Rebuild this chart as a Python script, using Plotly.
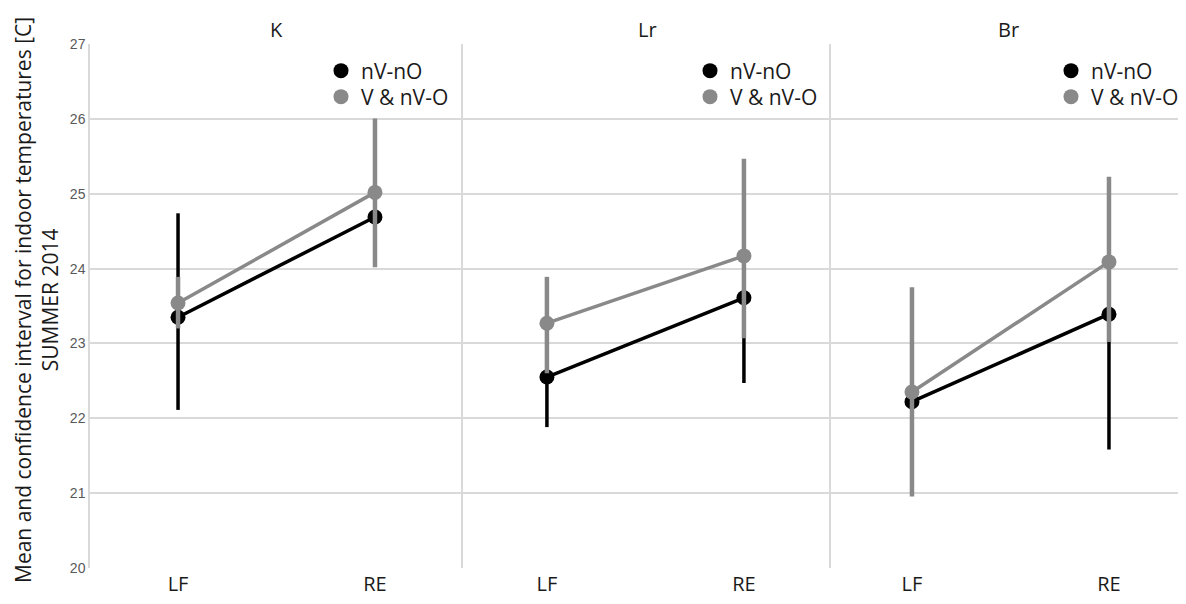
import plotly.graph_objects as go
from plotly.subplots import make_subplots

groups = ["K", "Lr", "Br"]
categories = ["LF", "RE"]
series_names = ["nV-nO", "V & nV-O"]

# nV-nO (black)
nvno_mean = {"K": [23.35, 24.69], "Lr": [22.55, 23.61], "Br": [22.22, 23.39]}
nvno_low = {"K": [22.11, 24.20], "Lr": [21.88, 22.47], "Br": [21.50, 21.58]}
nvno_high = {"K": [24.74, 25.20], "Lr": [23.20, 24.60], "Br": [23.00, 24.80]}

# V & nV-O (gray)
vnv_mean = {"K": [23.54, 25.02], "Lr": [23.27, 24.17], "Br": [22.35, 24.09]}
vnv_low = {"K": [23.20, 24.02], "Lr": [22.60, 23.07], "Br": [20.95, 23.02]}
vnv_high = {"K": [23.89, 26.01], "Lr": [23.89, 25.47], "Br": [23.75, 25.23]}

y_ticks = [20, 21, 22, 23, 24, 25, 26, 27]

BLACK = "#000000"
GRAY = "#898989"
GRID = "#d9d9d9"
TXT = "#1a1a1a"

fig = make_subplots(rows=1, cols=3, shared_yaxes=True, horizontal_spacing=0)

series = [
    (series_names[0], BLACK, 3.5, nvno_mean, nvno_low, nvno_high),
    (series_names[1], GRAY, 4.5, vnv_mean, vnv_low, vnv_high),
]

# figure coords (page is offset by 8px body margin)
FW, FH = 1178, 596
L, R_EDGE = 82, 1178
TOP, BOT = 36, 560
pw = R_EDGE - L
ph = BOT - TOP
edges = [82, 455, 823, 1178]
doms = [[(edges[i] - L) / pw, (edges[i + 1] - L) / pw] for i in range(3)]
xranges = [[-0.447, 1.447], [-0.426, 1.442], [-0.411, 1.391]]

legend_left = [313, 682, 1043]
legend_rows = [63, 89]

legend_layouts = {}
for gi, g in enumerate(groups):
    col = gi + 1
    for name, color, thick, mean, low, high in series:
        m = mean[g]
        up = [h - v for h, v in zip(high[g], m)]
        dn = [v - l for v, l in zip(m, low[g])]
        fig.add_trace(go.Scatter(
            x=categories, y=m, mode="lines+markers", name=name,
            line=dict(color=color, width=3.5),
            marker=dict(color=color, size=15),
            error_y=dict(type="data", symmetric=False, array=up, arrayminus=dn,
                         color=color, thickness=thick, width=0),
            showlegend=False,
        ), row=1, col=col)
    for si, (name, color, *_) in enumerate(series):
        idx = gi * 2 + si + 1
        lid = "legend" if idx == 1 else f"legend{idx}"
        legend_layouts[lid] = dict(
            x=(legend_left[gi] - L) / pw, xanchor="left",
            y=(BOT - legend_rows[si]) / ph, yanchor="middle",
            bgcolor="rgba(255,255,255,0)",
            font=dict(family="Open Sans", size=21, color=TXT),
            itemwidth=30,
        )
        fig.add_trace(go.Scatter(
            x=[None], y=[None], mode="markers", name=name,
            marker=dict(color=color, size=15),
            legend=lid, showlegend=True,
        ), row=1, col=col)

for i in range(3):
    xa = "xaxis" if i == 0 else f"xaxis{i+1}"
    ya = "yaxis" if i == 0 else f"yaxis{i+1}"
    fig.layout[xa].update(
        domain=doms[i], type="category", categoryorder="array",
        categoryarray=categories, range=xranges[i], showgrid=False,
        zeroline=False, showline=False, ticks="", ticklabelstandoff=2,
        tickfont=dict(family="Open Sans", size=20, color=TXT),
    )
    fig.layout[ya].update(
        range=[19.995, 27.005], tickvals=y_ticks, showgrid=True, gridcolor=GRID,
        gridwidth=1.5, zeroline=False, showline=True, linecolor=GRID,
        linewidth=1.5, ticks="", showticklabels=(i == 0),
        tickfont=dict(family="Liberation Sans", size=14, color="#595959"),
    )

for lid, spec in legend_layouts.items():
    fig.layout[lid] = spec

annotations = []
for i, g in enumerate(groups):
    annotations.append(dict(
        text=g, xref="paper", yref="paper",
        x=(doms[i][0] + doms[i][1]) / 2, y=(BOT - 22) / ph,
        xanchor="center", yanchor="middle", showarrow=False,
        font=dict(family="Open Sans", size=20, color=TXT),
    ))
annotations.append(dict(
    text="Mean and confidence interval for indoor temperatures [C]<br>SUMMER 2014",
    xref="paper", yref="paper", x=(28 - L) / pw, y=(BOT - 292) / ph,
    xanchor="center", yanchor="middle", textangle=-90, showarrow=False,
    font=dict(family="Open Sans", size=21, color=TXT),
))

fig.update_layout(
    width=FW, height=FH,
    margin=dict(l=L, r=FW - R_EDGE, t=TOP, b=FH - BOT),
    paper_bgcolor="white", plot_bgcolor="white",
    annotations=annotations,
)

fig.write_html("out.html")
